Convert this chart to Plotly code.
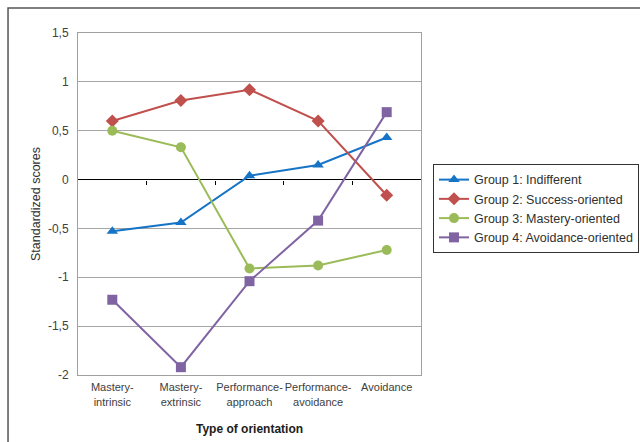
import plotly.graph_objects as go

categories = ["Mastery-<br>intrinsic", "Mastery-<br>extrinsic", "Performance-<br>approach",
              "Performance-<br>avoidance", "Avoidance"]
group1 = [-0.53, -0.44, 0.04, 0.15, 0.43]
group2 = [0.60, 0.81, 0.92, 0.60, -0.16]
group3 = [0.50, 0.33, -0.91, -0.88, -0.72]
group4 = [-1.23, -1.92, -1.04, -0.42, 0.69]
names = ["Group 1: Indifferent", "Group 2: Success-oriented",
         "Group 3: Mastery-oriented", "Group 4: Avoidance-oriented"]
colors = ["#1674C6", "#C0504D", "#9BBB59", "#8064A2"]
symbols = ["triangle-up", "diamond", "circle", "square"]
sizes = [10, 10, 10, 10]
ytickvals = [-2, -1.5, -1, -0.5, 0, 0.5, 1, 1.5]
yticktext = ["-2", "-1,5", "-1", "-0,5", "0", "0,5", "1", "1,5"]

xs = list(range(len(categories)))
fig = go.Figure()
for vals, name, col, sym, sz in zip([group1, group2, group3, group4], names, colors, symbols, sizes):
    fig.add_trace(go.Scatter(x=xs, y=vals, name=name, mode="lines+markers",
                             line=dict(color=col, width=2),
                             marker=dict(symbol=sym, size=sz, color=col)))

font = "Liberation Sans, Arial, sans-serif"
fig.update_layout(
    width=640, height=442,
    margin=dict(l=78, r=219, t=33, b=67, autoexpand=False),
    paper_bgcolor="white", plot_bgcolor="white",
    font=dict(family=font, size=11, color="#404040"),
    showlegend=True,
    legend=dict(x=1.035, y=0.617, xanchor="left", yanchor="top",
                bordercolor="#333333", borderwidth=1, bgcolor="white",
                font=dict(size=12.5, color="#303030"), tracegroupgap=0,
                itemwidth=30),
    xaxis=dict(range=[-0.5, 4.5], tickvals=xs, ticktext=categories, tickangle=0,
               automargin=False, ticklabelstandoff=2,
               showgrid=False, zeroline=False, showline=True, linecolor="#A0A0A0",
               mirror=True, ticks="", tickfont=dict(size=11, color="#404040"),
               title=dict(text="<b>Type of orientation</b>", font=dict(size=12, color="#202020"),
                          standoff=18)),
    yaxis=dict(range=[-2, 1.5], tickvals=ytickvals, ticktext=yticktext,
               automargin=False, ticklabelstandoff=6,
               showgrid=True, gridcolor="#A6A6A6", gridwidth=1,
               zeroline=True, zerolinecolor="#000000", zerolinewidth=1,
               showline=True, linecolor="#A0A0A0", mirror=True,
               ticks="", tickfont=dict(size=12, color="#404040"),
               title=dict(text="Standardized scores", font=dict(size=12.5, color="#303030"),
                          standoff=4)),
    xaxis2=dict(overlaying="x", matches="x", anchor="free", position=2.0 / 3.5,
                automargin=False,
                range=[-0.5, 4.5], tickvals=[0.5, 1.5, 2.5, 3.5], ticks="outside",
                ticklen=4, tickcolor="#000000", showticklabels=False,
                showgrid=False, zeroline=False, showline=False),
)
# invisible trace to make xaxis2 render
fig.add_trace(go.Scatter(x=[0], y=[0], xaxis="x2", mode="markers",
                         marker=dict(opacity=0), showlegend=False, hoverinfo="skip"))
# outer chart frame
fig.add_shape(type="rect", xref="paper", yref="paper",
              x0=-0.204, x1=1.66, y0=-0.21, y1=1.073,
              line=dict(color="#555555", width=1.5), layer="below")
fig.write_html("out.html", config={"displayModeBar": False})

# remove default page margin so the figure sits at the window origin
with open("out.html", "r", encoding="utf-8") as f:
    html = f.read()
html = html.replace("<head>", "<head><style>html,body{margin:0;padding:0;overflow:hidden;}</style>", 1)
with open("out.html", "w", encoding="utf-8") as f:
    f.write(html)
